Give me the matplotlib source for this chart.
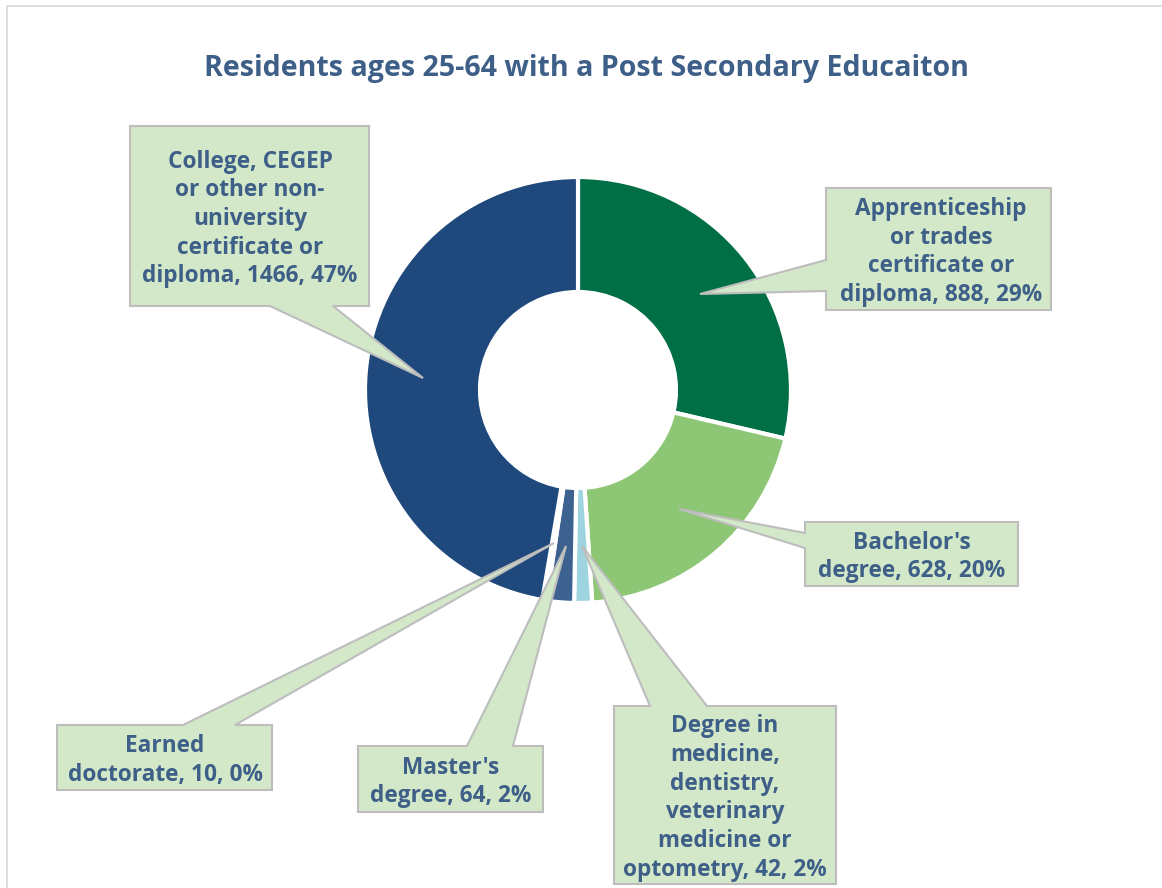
import matplotlib
matplotlib.use('Agg')
import matplotlib.pyplot as plt
from matplotlib.patches import Polygon, Rectangle

# data
categories = [
    "Apprenticeship\nor trades\ncertificate or\ndiploma",
    "Bachelor's\ndegree",
    "Degree in\nmedicine,\ndentistry,\nveterinary\nmedicine or\noptometry",
    "Master's\ndegree",
    "Earned\ndoctorate",
    "College, CEGEP\nor other non-\nuniversity\ncertificate or\ndiploma",
]
values = [888, 628, 42, 64, 10, 1466]
percents = [29, 20, 2, 2, 0, 47]  # as printed on the chart labels
colors = ['#006F46', '#8DC674', '#9ED4E0', '#3D6290', '#5B7FB0', '#1F487C']

title = "Residents ages 25-64 with a Post Secondary Educaiton"

TEXT = '#3D5F88'
BOX_FILL = '#D3E8C8'
BOX_EDGE = '#BDBDBD'
W, H = 1162, 888

# callout layout in pixels (top-left origin): box, side of pointer, base span, tip, text centre x
callouts = [
    ((826, 188, 1051, 310), 'left', (260, 291), (700, 294), 941),
    ((805, 522, 1018, 586), 'left', (533, 548), (679, 509), 912),
    ((614, 706, 836, 884), 'top', (650, 707), (582, 546), 725),
    ((358, 746, 543, 812), 'top', (467, 513), (566, 546), 451),
    ((57, 725, 272, 790), 'top', (183, 235), (554, 543), 165),
    ((130, 126, 369, 306), 'bottom', (270, 333), (423, 378), 250),
]

plt.rcParams['font.family'] = ['Open Sans', 'DejaVu Sans']

fig = plt.figure(figsize=(W / 100, H / 100), dpi=100)
ax = fig.add_axes([0, 0, 1, 1])

# thin chart border
ax.add_patch(Rectangle((7, -10), W, H - 6 + 10, fill=False, edgecolor='#D9D9D9', linewidth=1.2))

cx, cy, r = 578, H - 390, 213
ax.pie(values, colors=colors, startangle=90, counterclock=False, center=(cx, cy), radius=r,
       wedgeprops=dict(width=r - 98, edgecolor='white', linewidth=3), frame=True)
ax.set_xlim(0, W)
ax.set_ylim(0, H)
ax.set_aspect('auto')
ax.axis('off')


def callout_poly(box, side, base, tip):
    x0, y0, x1, y1 = box
    a, b = base
    if side == 'top':
        pts = [(x0, y0), (a, y0), tip, (b, y0), (x1, y0), (x1, y1), (x0, y1)]
    elif side == 'bottom':
        pts = [(x0, y0), (x1, y0), (x1, y1), (b, y1), tip, (a, y1), (x0, y1)]
    else:
        pts = [(x0, y0), (x1, y0), (x1, y1), (x0, y1), (x0, b), tip, (x0, a)]
    return [(px, H - py) for px, py in pts]


for (box, side, base, tip, tx), name, v, p in zip(callouts, categories, values, percents):
    ax.add_patch(Polygon(callout_poly(box, side, base, tip), closed=True, facecolor=BOX_FILL,
                         edgecolor=BOX_EDGE, linewidth=1.5, zorder=5))
    label = f"{name}, {v}, {p}%"
    ty = H - (box[1] + box[3]) / 2 - 3
    ax.text(tx, ty, label, ha='center', va='center', multialignment='center', color=TEXT,
            fontsize=16.3, fontweight='bold', linespacing=1.26, zorder=6)

ax.text(586, H - 69, title, ha='center', va='center', color=TEXT, fontsize=20.6, fontweight='bold')

fig.savefig('out.png', dpi=100)
